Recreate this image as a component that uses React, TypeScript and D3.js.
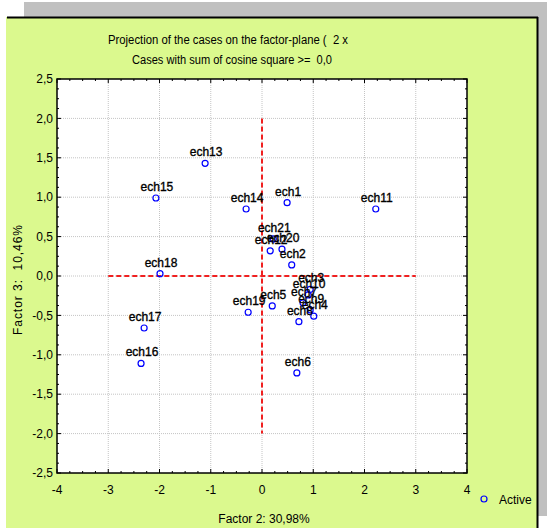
import React from "react";
import * as d3 from "d3";

const caseLabels = ["ech1","ech2","ech3","ech4","ech5","ech6","ech7","ech8","ech9","ech10","ech11","ech12","ech13","ech14","ech15","ech16","ech17","ech18","ech19","ech20","ech21"];
const factor2 = [0.49,0.58,0.94,1.01,0.20,0.68,0.80,0.72,0.94,0.90,2.22,0.16,-1.11,-0.31,-2.07,-2.36,-2.30,-1.99,-0.27,0.39,0.22];
const factor3 = [0.93,0.14,-0.17,-0.51,-0.38,-1.23,-0.34,-0.58,-0.43,-0.24,0.85,0.32,1.43,0.85,0.99,-1.11,-0.66,0.03,-0.46,0.34,0.47];
const xTicks = [-4,-3,-2,-1,0,1,2,3,4];
const yTicks = [-2.5,-2,-1.5,-1,-0.5,0,0.5,1,1.5,2,2.5];
const titleLine1 = "Projection of the cases on the factor-plane (  2 x";
const titleLine2 = "Cases with sum of cosine square >=  0,0";
const xTitle = "Factor 2: 30,98%";
const yTitle = "Factor 3:  10,46%";
const legendLabel = "Active";

const FONT = "'Liberation Sans', Arial, sans-serif";

export default function App() {
  const x = d3.scaleLinear().domain([-4, 4]).range([57, 467]);
  const y = d3.scaleLinear().domain([-2.5, 2.5]).range([473, 79]);
  const fmtY = (v: number) => d3.format(".1f")(v).replace(".", ",").replace("−", "-");
  const xMinor = d3.range(-4, 4.001, 0.25);
  const yMinor = d3.range(-2.5, 2.501, 0.125);
  const [x0, x1] = x.range();
  const [y0, y1] = y.range();
  const pre = { whiteSpace: "pre" as const };
  return (
    <svg width={547} height={528} style={{ position: "absolute", left: 0, top: 0 }} fontFamily={FONT}>
      <rect x={24} y={2} width={523} height={514} fill="#c0c0c0" />
      <rect x={6} y={17} width={532} height={511} fill="#dbf98e" />
      <line x1={7} x2={538} y1={17.5} y2={17.5} stroke="#000" strokeWidth={2} />
      <line x1={537.5} x2={537.5} y1={17} y2={528} stroke="#000" strokeWidth={2} />

      <text x={108} y={44} fontSize={12} textLength={240} lengthAdjust="spacingAndGlyphs" fill="#000" style={pre}>{titleLine1}</text>
      <text x={132} y={64} fontSize={12} textLength={200} lengthAdjust="spacingAndGlyphs" fill="#000" style={pre}>{titleLine2}</text>

      <rect x={x0} y={y1} width={x1 - x0} height={y0 - y1} fill="#fff" />
      {xTicks.slice(1, -1).map((t) => (
        <line key={"gx" + t} x1={x(t)} x2={x(t)} y1={y1} y2={y0} stroke="#c4c4c4" strokeDasharray="1,1" />
      ))}
      {yTicks.slice(1, -1).map((t) => (
        <line key={"gy" + t} x1={x0} x2={x1} y1={y(t)} y2={y(t)} stroke="#c4c4c4" strokeDasharray="1,1" />
      ))}
      <line x1={x(-3)} x2={x(3)} y1={y(0)} y2={y(0)} stroke="#f02020" strokeWidth={2} strokeDasharray="5,3" />
      <line x1={x(0)} x2={x(0)} y1={y(2)} y2={y(-2)} stroke="#f02020" strokeWidth={2} strokeDasharray="5,3" />

      {xMinor.map((t, i) => {
        const len = Math.abs(t - Math.round(t)) < 1e-6 ? 4 : 2;
        return (
          <g key={"xt" + i}>
            <line x1={x(t)} x2={x(t)} y1={y0} y2={y0 - len} stroke="#000" />
            <line x1={x(t)} x2={x(t)} y1={y1} y2={y1 + len} stroke="#000" />
          </g>
        );
      })}
      {yMinor.map((t, i) => {
        const len = Math.abs(t * 2 - Math.round(t * 2)) < 1e-6 ? 4 : 2;
        return (
          <g key={"yt" + i}>
            <line x1={x0} x2={x0 + len} y1={y(t)} y2={y(t)} stroke="#000" />
            <line x1={x1} x2={x1 - len} y1={y(t)} y2={y(t)} stroke="#000" />
          </g>
        );
      })}
      <rect x={x0} y={y1} width={x1 - x0} height={y0 - y1} fill="none" stroke="#000" strokeWidth={1.5} />

      {xTicks.map((t) => (
        <text key={"xl" + t} x={x(t)} y={494} fontSize={12} textAnchor="middle" fill="#000">{String(t)}</text>
      ))}
      {yTicks.map((t) => (
        <text key={"yl" + t} x={53} y={y(t)} dy="0.35em" fontSize={12} textAnchor="end" fill="#000">{fmtY(t)}</text>
      ))}
      <text x={264} y={523} fontSize={12} textAnchor="middle" fill="#000">{xTitle}</text>
      <text transform={`translate(22,${280}) rotate(-90)`} fontSize={12} textAnchor="middle" textLength={110} lengthAdjust="spacing" fill="#000" style={pre}>{yTitle}</text>

      {caseLabels.map((c, i) => (
        <circle key={"p" + c} cx={x(factor2[i])} cy={y(factor3[i])} r={3} fill="none" stroke="#0000ff" strokeWidth={1.2} />
      ))}
      {caseLabels.map((c, i) => (
        <text key={"l" + c} x={x(factor2[i]) + 1} y={y(factor3[i]) - 7} fontSize={12} textAnchor="middle" fill="#000" stroke="#000" strokeWidth={0.35}>{c}</text>
      ))}

      <circle cx={484} cy={499} r={3} fill="none" stroke="#0000ff" strokeWidth={1.2} />
      <text x={499} y={504} fontSize={12} fill="#000">{legendLabel}</text>
    </svg>
  );
}
